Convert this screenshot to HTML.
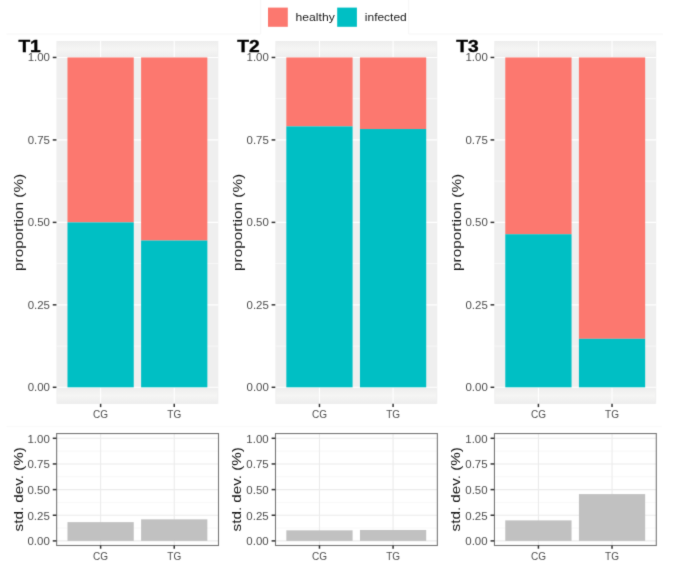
<!DOCTYPE html><html><head><meta charset="utf-8"><style>html,body{margin:0;padding:0;background:#fff;}svg{display:block;}text{font-family:"Liberation Sans",sans-serif;}</style></head><body>
<svg width="685" height="569" viewBox="0 0 685 569">
<defs><linearGradient id="sg" x1="0" y1="0" x2="0" y2="1"><stop offset="0" stop-color="#EDEDED"/><stop offset="0.5" stop-color="#F5F5F4"/><stop offset="1" stop-color="#EDEDED"/></linearGradient><filter id="f" x="0" y="0" width="685" height="569" filterUnits="userSpaceOnUse" color-interpolation-filters="sRGB"><feConvolveMatrix order="3" preserveAlpha="true" kernelMatrix="0.015 0.085 0.015 0.085 0.6 0.085 0.015 0.085 0.015"/></filter></defs><g filter="url(#f)">
<rect x="0" y="0" width="685" height="569" fill="#fff"/>
<path d="M6.5 34H260.7V-1M408.7 -1V34H663" fill="none" stroke="#F6F6F6" stroke-width="1"/>
<line x1="6.5" y1="426.5" x2="662" y2="426.5" stroke="#FAFAFA" stroke-width="1"/>
<rect x="268" y="7.6" width="19.8" height="19.2" fill="#FC786F"/>
<text x="295.6" y="21" font-size="10.9" fill="#1a1a1a" textLength="39.2" lengthAdjust="spacingAndGlyphs">healthy</text>
<rect x="337.2" y="7.6" width="19.7" height="19.2" fill="#00BFC4"/>
<text x="364.8" y="21" font-size="10.9" fill="#1a1a1a" textLength="42" lengthAdjust="spacingAndGlyphs">infected</text>
<rect x="56.45" y="41" width="161.95" height="362.8" fill="#EFEFEF"/>
<rect x="57.45" y="41" width="159.95" height="16.45" fill="url(#sg)"/>
<rect x="57.45" y="387.3" width="159.95" height="16.5" fill="url(#sg)"/>
<line x1="56.45" x2="218.4" y1="346.07" y2="346.07" stroke="#fff" stroke-width="0.55"/>
<line x1="56.45" x2="218.4" y1="263.61" y2="263.61" stroke="#fff" stroke-width="0.55"/>
<line x1="56.45" x2="218.4" y1="181.14" y2="181.14" stroke="#fff" stroke-width="0.55"/>
<line x1="56.45" x2="218.4" y1="98.68" y2="98.68" stroke="#fff" stroke-width="0.55"/>
<line x1="56.45" x2="218.4" y1="387.3" y2="387.3" stroke="#fff" stroke-width="1.1"/>
<line x1="56.45" x2="218.4" y1="304.84" y2="304.84" stroke="#fff" stroke-width="1.1"/>
<line x1="56.45" x2="218.4" y1="222.38" y2="222.38" stroke="#fff" stroke-width="1.1"/>
<line x1="56.45" x2="218.4" y1="139.91" y2="139.91" stroke="#fff" stroke-width="1.1"/>
<line x1="56.45" x2="218.4" y1="57.45" y2="57.45" stroke="#fff" stroke-width="1.1"/>
<line x1="100.62" x2="100.62" y1="41" y2="403.8" stroke="#fff" stroke-width="1.1"/>
<line x1="174.23" x2="174.23" y1="41" y2="403.8" stroke="#fff" stroke-width="1.1"/>
<rect x="67.49" y="57.45" width="66.25" height="164.93" fill="#FC786F"/>
<rect x="67.49" y="222.38" width="66.25" height="164.93" fill="#00BFC4"/>
<rect x="141.11" y="57.45" width="66.25" height="183.07" fill="#FC786F"/>
<rect x="141.11" y="240.52" width="66.25" height="146.78" fill="#00BFC4"/>
<line x1="52.75" x2="56.45" y1="387.3" y2="387.3" stroke="#333" stroke-width="1.5"/>
<text x="50" y="391.25" font-size="10.2" fill="#4D4D4D" text-anchor="end" textLength="22.3" lengthAdjust="spacingAndGlyphs">0.00</text>
<line x1="52.75" x2="56.45" y1="304.84" y2="304.84" stroke="#333" stroke-width="1.5"/>
<text x="50" y="308.79" font-size="10.2" fill="#4D4D4D" text-anchor="end" textLength="22.3" lengthAdjust="spacingAndGlyphs">0.25</text>
<line x1="52.75" x2="56.45" y1="222.38" y2="222.38" stroke="#333" stroke-width="1.5"/>
<text x="50" y="226.32" font-size="10.2" fill="#4D4D4D" text-anchor="end" textLength="22.3" lengthAdjust="spacingAndGlyphs">0.50</text>
<line x1="52.75" x2="56.45" y1="139.91" y2="139.91" stroke="#333" stroke-width="1.5"/>
<text x="50" y="143.86" font-size="10.2" fill="#4D4D4D" text-anchor="end" textLength="22.3" lengthAdjust="spacingAndGlyphs">0.75</text>
<line x1="52.75" x2="56.45" y1="57.45" y2="57.45" stroke="#333" stroke-width="1.5"/>
<text x="50" y="61.4" font-size="10.2" fill="#4D4D4D" text-anchor="end" textLength="22.3" lengthAdjust="spacingAndGlyphs">1.00</text>
<line x1="100.62" x2="100.62" y1="403.8" y2="407.1" stroke="#333" stroke-width="1.5"/>
<text x="100.62" y="417.9" font-size="10" fill="#4D4D4D" text-anchor="middle">CG</text>
<line x1="174.23" x2="174.23" y1="403.8" y2="407.1" stroke="#333" stroke-width="1.5"/>
<text x="174.23" y="417.9" font-size="10" fill="#4D4D4D" text-anchor="middle">TG</text>
<text transform="translate(23.1 222.4) rotate(-90)" font-size="13.7" fill="#151515" text-anchor="middle" textLength="97" lengthAdjust="spacingAndGlyphs">proportion (%)</text>
<text x="18.4" y="52.3" font-size="17.2" font-weight="bold" fill="#000" stroke="#000" stroke-width="0.35" textLength="22.4" lengthAdjust="spacingAndGlyphs">T1</text>
<rect x="56.45" y="433.2" width="161.95" height="112.2" fill="#fff"/>
<line x1="56.45" x2="218.4" y1="528.07" y2="528.07" stroke="#F2F2F2" stroke-width="0.55"/>
<line x1="56.45" x2="218.4" y1="502.43" y2="502.43" stroke="#F2F2F2" stroke-width="0.55"/>
<line x1="56.45" x2="218.4" y1="476.77" y2="476.77" stroke="#F2F2F2" stroke-width="0.55"/>
<line x1="56.45" x2="218.4" y1="451.12" y2="451.12" stroke="#F2F2F2" stroke-width="0.55"/>
<line x1="56.45" x2="218.4" y1="540.9" y2="540.9" stroke="#EBEBEB" stroke-width="1.1"/>
<line x1="56.45" x2="218.4" y1="515.25" y2="515.25" stroke="#EBEBEB" stroke-width="1.1"/>
<line x1="56.45" x2="218.4" y1="489.6" y2="489.6" stroke="#EBEBEB" stroke-width="1.1"/>
<line x1="56.45" x2="218.4" y1="463.95" y2="463.95" stroke="#EBEBEB" stroke-width="1.1"/>
<line x1="56.45" x2="218.4" y1="438.3" y2="438.3" stroke="#EBEBEB" stroke-width="1.1"/>
<line x1="100.62" x2="100.62" y1="433.2" y2="545.4" stroke="#EBEBEB" stroke-width="1.1"/>
<line x1="174.23" x2="174.23" y1="433.2" y2="545.4" stroke="#EBEBEB" stroke-width="1.1"/>
<rect x="67.49" y="522.12" width="66.25" height="18.78" fill="#C1C1C1"/>
<rect x="141.11" y="519.35" width="66.25" height="21.55" fill="#C1C1C1"/>
<rect x="56.65" y="433.55" width="161.85" height="111.95" fill="none" stroke="#777" stroke-width="1.1"/>
<line x1="52.75" x2="56.45" y1="540.9" y2="540.9" stroke="#333" stroke-width="1.5"/>
<text x="49.8" y="545.3" font-size="10.2" fill="#4D4D4D" text-anchor="end" textLength="22.3" lengthAdjust="spacingAndGlyphs">0.00</text>
<line x1="52.75" x2="56.45" y1="515.25" y2="515.25" stroke="#333" stroke-width="1.5"/>
<text x="49.8" y="519.65" font-size="10.2" fill="#4D4D4D" text-anchor="end" textLength="22.3" lengthAdjust="spacingAndGlyphs">0.25</text>
<line x1="52.75" x2="56.45" y1="489.6" y2="489.6" stroke="#333" stroke-width="1.5"/>
<text x="49.8" y="494" font-size="10.2" fill="#4D4D4D" text-anchor="end" textLength="22.3" lengthAdjust="spacingAndGlyphs">0.50</text>
<line x1="52.75" x2="56.45" y1="463.95" y2="463.95" stroke="#333" stroke-width="1.5"/>
<text x="49.8" y="468.35" font-size="10.2" fill="#4D4D4D" text-anchor="end" textLength="22.3" lengthAdjust="spacingAndGlyphs">0.75</text>
<line x1="52.75" x2="56.45" y1="438.3" y2="438.3" stroke="#333" stroke-width="1.5"/>
<text x="49.8" y="442.7" font-size="10.2" fill="#4D4D4D" text-anchor="end" textLength="22.3" lengthAdjust="spacingAndGlyphs">1.00</text>
<line x1="100.62" x2="100.62" y1="545.4" y2="548.7" stroke="#333" stroke-width="1.5"/>
<text x="100.62" y="560.3" font-size="10" fill="#4D4D4D" text-anchor="middle">CG</text>
<line x1="174.23" x2="174.23" y1="545.4" y2="548.7" stroke="#333" stroke-width="1.5"/>
<text x="174.23" y="560.3" font-size="10" fill="#4D4D4D" text-anchor="middle">TG</text>
<text transform="translate(22.5 489.3) rotate(-90)" font-size="13.7" fill="#151515" text-anchor="middle" textLength="84.2" lengthAdjust="spacingAndGlyphs">std. dev. (%)</text>
<rect x="275.3" y="41" width="161.95" height="362.8" fill="#EFEFEF"/>
<rect x="276.3" y="41" width="159.95" height="16.45" fill="url(#sg)"/>
<rect x="276.3" y="387.3" width="159.95" height="16.5" fill="url(#sg)"/>
<line x1="275.3" x2="437.25" y1="346.07" y2="346.07" stroke="#fff" stroke-width="0.55"/>
<line x1="275.3" x2="437.25" y1="263.61" y2="263.61" stroke="#fff" stroke-width="0.55"/>
<line x1="275.3" x2="437.25" y1="181.14" y2="181.14" stroke="#fff" stroke-width="0.55"/>
<line x1="275.3" x2="437.25" y1="98.68" y2="98.68" stroke="#fff" stroke-width="0.55"/>
<line x1="275.3" x2="437.25" y1="387.3" y2="387.3" stroke="#fff" stroke-width="1.1"/>
<line x1="275.3" x2="437.25" y1="304.84" y2="304.84" stroke="#fff" stroke-width="1.1"/>
<line x1="275.3" x2="437.25" y1="222.38" y2="222.38" stroke="#fff" stroke-width="1.1"/>
<line x1="275.3" x2="437.25" y1="139.91" y2="139.91" stroke="#fff" stroke-width="1.1"/>
<line x1="275.3" x2="437.25" y1="57.45" y2="57.45" stroke="#fff" stroke-width="1.1"/>
<line x1="319.47" x2="319.47" y1="41" y2="403.8" stroke="#fff" stroke-width="1.1"/>
<line x1="393.08" x2="393.08" y1="41" y2="403.8" stroke="#fff" stroke-width="1.1"/>
<rect x="286.34" y="57.45" width="66.25" height="68.94" fill="#FC786F"/>
<rect x="286.34" y="126.39" width="66.25" height="260.91" fill="#00BFC4"/>
<rect x="359.96" y="57.45" width="66.25" height="71.58" fill="#FC786F"/>
<rect x="359.96" y="129.03" width="66.25" height="258.27" fill="#00BFC4"/>
<line x1="271.6" x2="275.3" y1="387.3" y2="387.3" stroke="#333" stroke-width="1.5"/>
<text x="268.85" y="391.25" font-size="10.2" fill="#4D4D4D" text-anchor="end" textLength="22.3" lengthAdjust="spacingAndGlyphs">0.00</text>
<line x1="271.6" x2="275.3" y1="304.84" y2="304.84" stroke="#333" stroke-width="1.5"/>
<text x="268.85" y="308.79" font-size="10.2" fill="#4D4D4D" text-anchor="end" textLength="22.3" lengthAdjust="spacingAndGlyphs">0.25</text>
<line x1="271.6" x2="275.3" y1="222.38" y2="222.38" stroke="#333" stroke-width="1.5"/>
<text x="268.85" y="226.32" font-size="10.2" fill="#4D4D4D" text-anchor="end" textLength="22.3" lengthAdjust="spacingAndGlyphs">0.50</text>
<line x1="271.6" x2="275.3" y1="139.91" y2="139.91" stroke="#333" stroke-width="1.5"/>
<text x="268.85" y="143.86" font-size="10.2" fill="#4D4D4D" text-anchor="end" textLength="22.3" lengthAdjust="spacingAndGlyphs">0.75</text>
<line x1="271.6" x2="275.3" y1="57.45" y2="57.45" stroke="#333" stroke-width="1.5"/>
<text x="268.85" y="61.4" font-size="10.2" fill="#4D4D4D" text-anchor="end" textLength="22.3" lengthAdjust="spacingAndGlyphs">1.00</text>
<line x1="319.47" x2="319.47" y1="403.8" y2="407.1" stroke="#333" stroke-width="1.5"/>
<text x="319.47" y="417.9" font-size="10" fill="#4D4D4D" text-anchor="middle">CG</text>
<line x1="393.08" x2="393.08" y1="403.8" y2="407.1" stroke="#333" stroke-width="1.5"/>
<text x="393.08" y="417.9" font-size="10" fill="#4D4D4D" text-anchor="middle">TG</text>
<text transform="translate(241.95 222.4) rotate(-90)" font-size="13.7" fill="#151515" text-anchor="middle" textLength="97" lengthAdjust="spacingAndGlyphs">proportion (%)</text>
<text x="237.25" y="52.3" font-size="17.2" font-weight="bold" fill="#000" stroke="#000" stroke-width="0.35" textLength="22.4" lengthAdjust="spacingAndGlyphs">T2</text>
<rect x="275.3" y="433.2" width="161.95" height="112.2" fill="#fff"/>
<line x1="275.3" x2="437.25" y1="528.07" y2="528.07" stroke="#F2F2F2" stroke-width="0.55"/>
<line x1="275.3" x2="437.25" y1="502.43" y2="502.43" stroke="#F2F2F2" stroke-width="0.55"/>
<line x1="275.3" x2="437.25" y1="476.77" y2="476.77" stroke="#F2F2F2" stroke-width="0.55"/>
<line x1="275.3" x2="437.25" y1="451.12" y2="451.12" stroke="#F2F2F2" stroke-width="0.55"/>
<line x1="275.3" x2="437.25" y1="540.9" y2="540.9" stroke="#EBEBEB" stroke-width="1.1"/>
<line x1="275.3" x2="437.25" y1="515.25" y2="515.25" stroke="#EBEBEB" stroke-width="1.1"/>
<line x1="275.3" x2="437.25" y1="489.6" y2="489.6" stroke="#EBEBEB" stroke-width="1.1"/>
<line x1="275.3" x2="437.25" y1="463.95" y2="463.95" stroke="#EBEBEB" stroke-width="1.1"/>
<line x1="275.3" x2="437.25" y1="438.3" y2="438.3" stroke="#EBEBEB" stroke-width="1.1"/>
<line x1="319.47" x2="319.47" y1="433.2" y2="545.4" stroke="#EBEBEB" stroke-width="1.1"/>
<line x1="393.08" x2="393.08" y1="433.2" y2="545.4" stroke="#EBEBEB" stroke-width="1.1"/>
<rect x="286.34" y="530.33" width="66.25" height="10.57" fill="#C1C1C1"/>
<rect x="359.96" y="530.02" width="66.25" height="10.88" fill="#C1C1C1"/>
<rect x="275.5" y="433.55" width="161.85" height="111.95" fill="none" stroke="#777" stroke-width="1.1"/>
<line x1="271.6" x2="275.3" y1="540.9" y2="540.9" stroke="#333" stroke-width="1.5"/>
<text x="268.65" y="545.3" font-size="10.2" fill="#4D4D4D" text-anchor="end" textLength="22.3" lengthAdjust="spacingAndGlyphs">0.00</text>
<line x1="271.6" x2="275.3" y1="515.25" y2="515.25" stroke="#333" stroke-width="1.5"/>
<text x="268.65" y="519.65" font-size="10.2" fill="#4D4D4D" text-anchor="end" textLength="22.3" lengthAdjust="spacingAndGlyphs">0.25</text>
<line x1="271.6" x2="275.3" y1="489.6" y2="489.6" stroke="#333" stroke-width="1.5"/>
<text x="268.65" y="494" font-size="10.2" fill="#4D4D4D" text-anchor="end" textLength="22.3" lengthAdjust="spacingAndGlyphs">0.50</text>
<line x1="271.6" x2="275.3" y1="463.95" y2="463.95" stroke="#333" stroke-width="1.5"/>
<text x="268.65" y="468.35" font-size="10.2" fill="#4D4D4D" text-anchor="end" textLength="22.3" lengthAdjust="spacingAndGlyphs">0.75</text>
<line x1="271.6" x2="275.3" y1="438.3" y2="438.3" stroke="#333" stroke-width="1.5"/>
<text x="268.65" y="442.7" font-size="10.2" fill="#4D4D4D" text-anchor="end" textLength="22.3" lengthAdjust="spacingAndGlyphs">1.00</text>
<line x1="319.47" x2="319.47" y1="545.4" y2="548.7" stroke="#333" stroke-width="1.5"/>
<text x="319.47" y="560.3" font-size="10" fill="#4D4D4D" text-anchor="middle">CG</text>
<line x1="393.08" x2="393.08" y1="545.4" y2="548.7" stroke="#333" stroke-width="1.5"/>
<text x="393.08" y="560.3" font-size="10" fill="#4D4D4D" text-anchor="middle">TG</text>
<text transform="translate(241.35 489.3) rotate(-90)" font-size="13.7" fill="#151515" text-anchor="middle" textLength="84.2" lengthAdjust="spacingAndGlyphs">std. dev. (%)</text>
<rect x="494.25" y="41" width="161.95" height="362.8" fill="#EFEFEF"/>
<rect x="495.25" y="41" width="159.95" height="16.45" fill="url(#sg)"/>
<rect x="495.25" y="387.3" width="159.95" height="16.5" fill="url(#sg)"/>
<line x1="494.25" x2="656.2" y1="346.07" y2="346.07" stroke="#fff" stroke-width="0.55"/>
<line x1="494.25" x2="656.2" y1="263.61" y2="263.61" stroke="#fff" stroke-width="0.55"/>
<line x1="494.25" x2="656.2" y1="181.14" y2="181.14" stroke="#fff" stroke-width="0.55"/>
<line x1="494.25" x2="656.2" y1="98.68" y2="98.68" stroke="#fff" stroke-width="0.55"/>
<line x1="494.25" x2="656.2" y1="387.3" y2="387.3" stroke="#fff" stroke-width="1.1"/>
<line x1="494.25" x2="656.2" y1="304.84" y2="304.84" stroke="#fff" stroke-width="1.1"/>
<line x1="494.25" x2="656.2" y1="222.38" y2="222.38" stroke="#fff" stroke-width="1.1"/>
<line x1="494.25" x2="656.2" y1="139.91" y2="139.91" stroke="#fff" stroke-width="1.1"/>
<line x1="494.25" x2="656.2" y1="57.45" y2="57.45" stroke="#fff" stroke-width="1.1"/>
<line x1="538.42" x2="538.42" y1="41" y2="403.8" stroke="#fff" stroke-width="1.1"/>
<line x1="612.03" x2="612.03" y1="41" y2="403.8" stroke="#fff" stroke-width="1.1"/>
<rect x="505.29" y="57.45" width="66.25" height="176.8" fill="#FC786F"/>
<rect x="505.29" y="234.25" width="66.25" height="153.05" fill="#00BFC4"/>
<rect x="578.91" y="57.45" width="66.25" height="281.36" fill="#FC786F"/>
<rect x="578.91" y="338.81" width="66.25" height="48.49" fill="#00BFC4"/>
<line x1="490.55" x2="494.25" y1="387.3" y2="387.3" stroke="#333" stroke-width="1.5"/>
<text x="487.8" y="391.25" font-size="10.2" fill="#4D4D4D" text-anchor="end" textLength="22.3" lengthAdjust="spacingAndGlyphs">0.00</text>
<line x1="490.55" x2="494.25" y1="304.84" y2="304.84" stroke="#333" stroke-width="1.5"/>
<text x="487.8" y="308.79" font-size="10.2" fill="#4D4D4D" text-anchor="end" textLength="22.3" lengthAdjust="spacingAndGlyphs">0.25</text>
<line x1="490.55" x2="494.25" y1="222.38" y2="222.38" stroke="#333" stroke-width="1.5"/>
<text x="487.8" y="226.32" font-size="10.2" fill="#4D4D4D" text-anchor="end" textLength="22.3" lengthAdjust="spacingAndGlyphs">0.50</text>
<line x1="490.55" x2="494.25" y1="139.91" y2="139.91" stroke="#333" stroke-width="1.5"/>
<text x="487.8" y="143.86" font-size="10.2" fill="#4D4D4D" text-anchor="end" textLength="22.3" lengthAdjust="spacingAndGlyphs">0.75</text>
<line x1="490.55" x2="494.25" y1="57.45" y2="57.45" stroke="#333" stroke-width="1.5"/>
<text x="487.8" y="61.4" font-size="10.2" fill="#4D4D4D" text-anchor="end" textLength="22.3" lengthAdjust="spacingAndGlyphs">1.00</text>
<line x1="538.42" x2="538.42" y1="403.8" y2="407.1" stroke="#333" stroke-width="1.5"/>
<text x="538.42" y="417.9" font-size="10" fill="#4D4D4D" text-anchor="middle">CG</text>
<line x1="612.03" x2="612.03" y1="403.8" y2="407.1" stroke="#333" stroke-width="1.5"/>
<text x="612.03" y="417.9" font-size="10" fill="#4D4D4D" text-anchor="middle">TG</text>
<text transform="translate(460.9 222.4) rotate(-90)" font-size="13.7" fill="#151515" text-anchor="middle" textLength="97" lengthAdjust="spacingAndGlyphs">proportion (%)</text>
<text x="456.2" y="52.3" font-size="17.2" font-weight="bold" fill="#000" stroke="#000" stroke-width="0.35" textLength="22.4" lengthAdjust="spacingAndGlyphs">T3</text>
<rect x="494.25" y="433.2" width="161.95" height="112.2" fill="#fff"/>
<line x1="494.25" x2="656.2" y1="528.07" y2="528.07" stroke="#F2F2F2" stroke-width="0.55"/>
<line x1="494.25" x2="656.2" y1="502.43" y2="502.43" stroke="#F2F2F2" stroke-width="0.55"/>
<line x1="494.25" x2="656.2" y1="476.77" y2="476.77" stroke="#F2F2F2" stroke-width="0.55"/>
<line x1="494.25" x2="656.2" y1="451.12" y2="451.12" stroke="#F2F2F2" stroke-width="0.55"/>
<line x1="494.25" x2="656.2" y1="540.9" y2="540.9" stroke="#EBEBEB" stroke-width="1.1"/>
<line x1="494.25" x2="656.2" y1="515.25" y2="515.25" stroke="#EBEBEB" stroke-width="1.1"/>
<line x1="494.25" x2="656.2" y1="489.6" y2="489.6" stroke="#EBEBEB" stroke-width="1.1"/>
<line x1="494.25" x2="656.2" y1="463.95" y2="463.95" stroke="#EBEBEB" stroke-width="1.1"/>
<line x1="494.25" x2="656.2" y1="438.3" y2="438.3" stroke="#EBEBEB" stroke-width="1.1"/>
<line x1="538.42" x2="538.42" y1="433.2" y2="545.4" stroke="#EBEBEB" stroke-width="1.1"/>
<line x1="612.03" x2="612.03" y1="433.2" y2="545.4" stroke="#EBEBEB" stroke-width="1.1"/>
<rect x="505.29" y="520.38" width="66.25" height="20.52" fill="#C1C1C1"/>
<rect x="578.91" y="494.11" width="66.25" height="46.79" fill="#C1C1C1"/>
<rect x="494.45" y="433.55" width="161.85" height="111.95" fill="none" stroke="#777" stroke-width="1.1"/>
<line x1="490.55" x2="494.25" y1="540.9" y2="540.9" stroke="#333" stroke-width="1.5"/>
<text x="487.6" y="545.3" font-size="10.2" fill="#4D4D4D" text-anchor="end" textLength="22.3" lengthAdjust="spacingAndGlyphs">0.00</text>
<line x1="490.55" x2="494.25" y1="515.25" y2="515.25" stroke="#333" stroke-width="1.5"/>
<text x="487.6" y="519.65" font-size="10.2" fill="#4D4D4D" text-anchor="end" textLength="22.3" lengthAdjust="spacingAndGlyphs">0.25</text>
<line x1="490.55" x2="494.25" y1="489.6" y2="489.6" stroke="#333" stroke-width="1.5"/>
<text x="487.6" y="494" font-size="10.2" fill="#4D4D4D" text-anchor="end" textLength="22.3" lengthAdjust="spacingAndGlyphs">0.50</text>
<line x1="490.55" x2="494.25" y1="463.95" y2="463.95" stroke="#333" stroke-width="1.5"/>
<text x="487.6" y="468.35" font-size="10.2" fill="#4D4D4D" text-anchor="end" textLength="22.3" lengthAdjust="spacingAndGlyphs">0.75</text>
<line x1="490.55" x2="494.25" y1="438.3" y2="438.3" stroke="#333" stroke-width="1.5"/>
<text x="487.6" y="442.7" font-size="10.2" fill="#4D4D4D" text-anchor="end" textLength="22.3" lengthAdjust="spacingAndGlyphs">1.00</text>
<line x1="538.42" x2="538.42" y1="545.4" y2="548.7" stroke="#333" stroke-width="1.5"/>
<text x="538.42" y="560.3" font-size="10" fill="#4D4D4D" text-anchor="middle">CG</text>
<line x1="612.03" x2="612.03" y1="545.4" y2="548.7" stroke="#333" stroke-width="1.5"/>
<text x="612.03" y="560.3" font-size="10" fill="#4D4D4D" text-anchor="middle">TG</text>
<text transform="translate(460.3 489.3) rotate(-90)" font-size="13.7" fill="#151515" text-anchor="middle" textLength="84.2" lengthAdjust="spacingAndGlyphs">std. dev. (%)</text>
</g></svg></body></html>
